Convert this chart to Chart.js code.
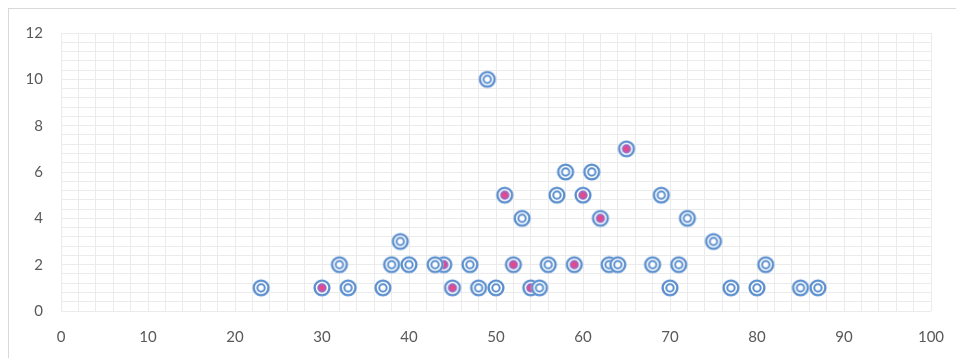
<!DOCTYPE html>
<html>
<head>
<meta charset="utf-8">
<script src="https://cdn.jsdelivr.net/npm/chart.js@4"></script>
<style>
  html, body { margin: 0; padding: 0; background: #fff; overflow: hidden; }
  #frame { position: absolute; left: 8px; top: 8px; width: 960px; height: 400px; border: 1px solid #d9d9d9; box-sizing: border-box; }
  #wrap { position: absolute; left: 0; top: 0; width: 956px; height: 358px; }
</style>
</head>
<body>
<div id="frame"></div>
<div id="wrap"><canvas id="scatter-chart" width="956" height="358"></canvas></div>
<script>
// plain points (blue double ring)
const plainX = [23, 33, 37, 48, 50, 55, 70, 77, 80, 85, 87,
                32, 38, 40, 43, 47, 56, 63, 64, 68, 71, 81,
                39, 75, 53, 72, 57, 69, 58, 61, 49];
const plainY = [1, 1, 1, 1, 1, 1, 1, 1, 1, 1, 1,
                2, 2, 2, 2, 2, 2, 2, 2, 2, 2, 2,
                3, 3, 4, 4, 5, 5, 6, 6, 10];
// highlighted points (pink centre)
const pinkX = [30, 45, 54, 44, 52, 59, 62, 51, 60, 65];
const pinkY = [1, 1, 1, 2, 2, 2, 4, 5, 5, 7];

const xTicks = [0, 10, 20, 30, 40, 50, 60, 70, 80, 90, 100];
const yTicks = [0, 2, 4, 6, 8, 10, 12];

const blue = "#5b8fce";
const pink = "#e8478b";

function makeMarker(fillCentre) {
    const c = document.createElement("canvas");
    c.width = 20;
    c.height = 20;
    const ctx = c.getContext("2d");
    ctx.fillStyle = "#fff";
    ctx.beginPath();
    ctx.arc(10, 10, 8.6, 0, Math.PI * 2);
    ctx.fill();
    ctx.strokeStyle = blue;
    ctx.lineWidth = 2.4;
    ctx.beginPath();
    ctx.arc(10, 10, 7.4, 0, Math.PI * 2);
    ctx.stroke();
    ctx.lineWidth = 2;
    ctx.beginPath();
    ctx.arc(10, 10, 3.7, 0, Math.PI * 2);
    if (fillCentre) {
        ctx.fillStyle = pink;
        ctx.fill();
        ctx.strokeStyle = "#9a6ac0";
    }
    ctx.stroke();
    return c;
}

const toPoints = (xs, ys) => xs.map((x, i) => ({ x: x, y: ys[i] }));

const tickFont = { family: "Lato, 'Open Sans', sans-serif", size: 15 };

new Chart(document.getElementById("scatter-chart"), {
    type: "scatter",
    data: {
        datasets: [{
            label: "all",
            data: toPoints(plainX, plainY),
            pointStyle: makeMarker(false),
            xAxisID: "x",
            yAxisID: "y"
        }, {
            label: "highlighted",
            data: toPoints(pinkX, pinkY),
            pointStyle: makeMarker(true),
            xAxisID: "x",
            yAxisID: "y"
        }]
    }, options: {
        responsive: false,
        animation: false,
        layout: { padding: { left: 0, right: 25, top: 33, bottom: 0 } },
        plugins: { legend: { display: false }, tooltip: { enabled: false } },
        scales: {
            x: {
                type: "linear",
                min: 0, max: 100,
                afterBuildTicks: s => { s.ticks = xTicks.map(v => ({ value: v })); },
                afterFit: s => { s.height = 47; s.paddingLeft = 0; s.paddingRight = 0; },
                grid: { color: "#d0d0d0", lineWidth: 1, drawTicks: false },
                border: { display: false },
                ticks: { color: "#595959", font: tickFont, padding: 17, maxRotation: 0 }
            },
            y: {
                type: "linear",
                min: 0, max: 12,
                afterBuildTicks: s => { s.ticks = yTicks.map(v => ({ value: v })); },
                afterFit: s => { s.width = 61; s.paddingTop = 0; s.paddingBottom = 0; },
                grid: { color: "#d0d0d0", lineWidth: 1, drawTicks: false },
                border: { display: false },
                ticks: { color: "#595959", font: tickFont, padding: 18 }
            },
            xMinor: {
                type: "linear",
                position: "bottom",
                min: 0, max: 50,
                z: -1,
                afterFit: s => { s.height = 0; },
                ticks: { display: false, stepSize: 1 },
                grid: { color: "#ebebeb", drawTicks: false },
                border: { display: false }
            },
            yMinor: {
                type: "linear",
                position: "left",
                min: 0, max: 30,
                z: -1,
                afterFit: s => { s.width = 0; },
                ticks: { display: false, stepSize: 1 },
                grid: { color: "#ebebeb", drawTicks: false },
                border: { display: false }
            }
        }
    }
})
</script>
</body>
</html>
